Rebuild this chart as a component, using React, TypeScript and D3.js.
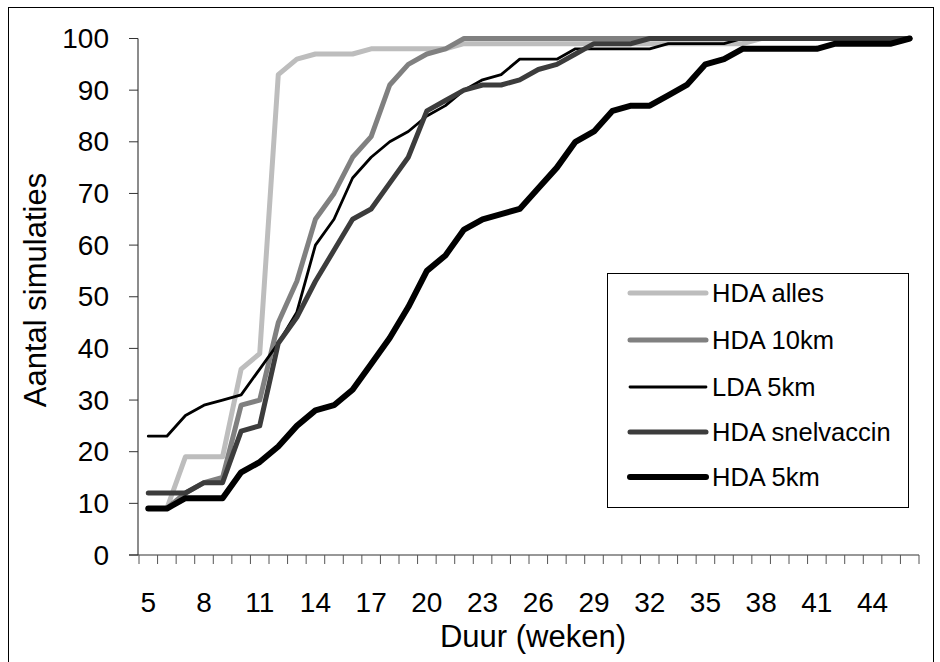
import React from "react";
import * as d3 from "d3";

const categories: number[] = d3.range(5, 47);
const xTickLabels: number[] = [5, 8, 11, 14, 17, 20, 23, 26, 29, 32, 35, 38, 41, 44];
const yTicks: number[] = [0, 10, 20, 30, 40, 50, 60, 70, 80, 90, 100];

const hdaAlles: number[] = [9, 9, 19, 19, 19, 36, 39, 93, 96, 97, 97, 97, 98, 98, 98, 98, 98, 99, 99, 99, 99, 99, 99, 99, 99, 99, 99, 99, 99, 99, 99, 99, 99, 100, 100, 100, 100, 100, 100, 100, 100, 100];
const hda10km: number[] = [9, 9, 12, 14, 15, 29, 30, 45, 53, 65, 70, 77, 81, 91, 95, 97, 98, 100, 100, 100, 100, 100, 100, 100, 100, 100, 100, 100, 100, 100, 100, 100, 100, 100, 100, 100, 100, 100, 100, 100, 100, 100];
const lda5km: number[] = [23, 23, 27, 29, 30, 31, 36, 41, 47, 60, 65, 73, 77, 80, 82, 85, 87, 90, 92, 93, 96, 96, 96, 98, 98, 98, 98, 98, 99, 99, 99, 99, 100, 100, 100, 100, 100, 100, 100, 100, 100, 100];
const hdaSnel: number[] = [12, 12, 12, 14, 14, 24, 25, 41, 46, 53, 59, 65, 67, 72, 77, 86, 88, 90, 91, 91, 92, 94, 95, 97, 99, 99, 99, 100, 100, 100, 100, 100, 100, 100, 100, 100, 100, 100, 100, 100, 100, 100];
const hda5km: number[] = [9, 9, 11, 11, 11, 16, 18, 21, 25, 28, 29, 32, 37, 42, 48, 55, 58, 63, 65, 66, 67, 71, 75, 80, 82, 86, 87, 87, 89, 91, 95, 96, 98, 98, 98, 98, 98, 99, 99, 99, 99, 100];

const seriesNames: string[] = ["HDA alles", "HDA 10km", "LDA 5km", "HDA snelvaccin", "HDA 5km"];
const seriesValues: number[][] = [hdaAlles, hda10km, lda5km, hdaSnel, hda5km];
const seriesColors: string[] = ["#bdbdbd", "#808080", "#000000", "#3c3c3c", "#000000"];
const seriesWidths: number[] = [5, 5, 2.8, 5, 6];

const FONT = "'Liberation Sans', Arial, sans-serif";

export default function App() {
  const W = 940;
  const H = 662;
  const x = d3.scaleBand<number>().domain(categories).range([139, 919]).padding(0);
  const y = d3.scaleLinear().domain([0, 100]).range([555, 38.5]);
  const bw = x.bandwidth();
  const cx = (c: number) => (x(c) as number) + bw / 2;

  const line = d3
    .line<number>()
    .x((_, i) => cx(categories[i]))
    .y((d) => y(d));

  const legendX = 607;
  const legendY = 273;
  const legendW = 301;
  const legendH = 234;
  const rowY = [293, 340, 387, 432, 477];

  return (
    <svg
      width={W}
      height={H}
      style={{ position: "absolute", left: 0, top: 0, background: "#fff" }}
      fontFamily={FONT}
    >
      <rect x={0} y={0} width={W} height={H} fill="#fff" />
      <rect x={8.5} y={7.5} width={925} height={700} fill="none" stroke="#000" strokeWidth={1} />

      {/* y axis */}
      <line x1={138} x2={138} y1={y(100)} y2={y(0)} stroke="#666" strokeWidth={1.5} />
      {yTicks.map((t) => (
        <g key={"yt" + t}>
          <line x1={129} x2={138} y1={y(t)} y2={y(t)} stroke="#333" strokeWidth={1} />
          <text x={109} y={y(t)} textAnchor="end" dominantBaseline="central" fontSize={28} fill="#000">
            {t}
          </text>
        </g>
      ))}

      {/* x axis */}
      <line x1={129} x2={919} y1={y(0)} y2={y(0)} stroke="#333" strokeWidth={1.2} />
      {d3.range(categories.length + 1).map((i) => (
        <line
          key={"xt" + i}
          x1={139 + i * bw}
          x2={139 + i * bw}
          y1={y(0)}
          y2={y(0) + 9}
          stroke="#555"
          strokeWidth={1}
        />
      ))}
      {xTickLabels.map((c) => (
        <text key={"xl" + c} x={cx(c)} y={612} textAnchor="middle" fontSize={28} fill="#000">
          {c}
        </text>
      ))}

      {/* axis titles */}
      <text x={533} y={647} textAnchor="middle" fontSize={31} fill="#000">
        Duur (weken)
      </text>
      <text transform={`translate(46, 290) rotate(-90)`} textAnchor="middle" fontSize={31} fill="#000">
        Aantal simulaties
      </text>

      {/* series */}
      {seriesValues.map((vals, si) => (
        <path
          key={"s" + si}
          d={line(vals) as string}
          fill="none"
          stroke={seriesColors[si]}
          strokeWidth={seriesWidths[si]}
          strokeLinejoin="round"
          strokeLinecap="round"
        />
      ))}

      {/* legend */}
      <rect x={legendX + 0.5} y={legendY + 0.5} width={legendW} height={legendH} fill="#fff" stroke="#000" strokeWidth={1} />
      {seriesNames.map((n, si) => (
        <g key={"lg" + si}>
          <line
            x1={630}
            x2={706}
            y1={rowY[si]}
            y2={rowY[si]}
            stroke={seriesColors[si]}
            strokeWidth={seriesWidths[si]}
            strokeLinecap="round"
          />
          <text x={712} y={rowY[si]} dominantBaseline="central" fontSize={25.5} fill="#000">
            {n}
          </text>
        </g>
      ))}
    </svg>
  );
}
